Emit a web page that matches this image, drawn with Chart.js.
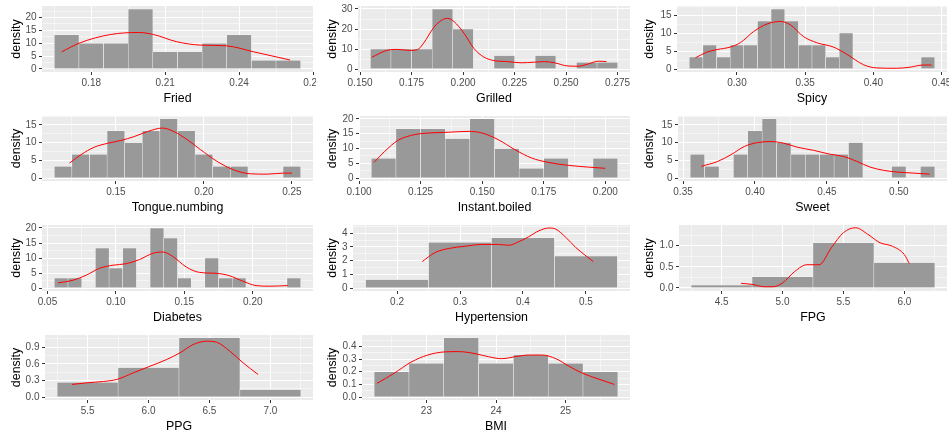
<!DOCTYPE html>
<html><head><meta charset="utf-8">
<script src="https://cdn.jsdelivr.net/npm/chart.js@4"></script>
<style>
html,body{margin:0;padding:0;background:#fff;overflow:hidden}
#wrap{position:relative;width:949px;height:432px;overflow:hidden;background:#fff}
#wrap canvas{position:absolute;display:block}
</style></head><body><div id="wrap"></div>
<script>
// ---------- data (histogram bin centres, densities, density-curve samples) ----------
const friedBins = [0.17,0.18,0.19,0.20,0.21,0.22,0.23,0.24,0.25,0.26];
const friedDensity = [13.33,10,10,23.33,6.67,6.67,10,13.33,3.33,3.33];
const friedCurveX = [0.168,0.1755,0.1877,0.1992,0.2053,0.2147,0.2242,0.235,0.2458,0.2607];
const friedCurveY = [6.7,10.2,13.4,14.2,13.4,10.6,9.3,9.0,6.7,3.5];

const grilledBins = [0.16,0.17,0.18,0.19,0.20,0.21,0.22,0.23,0.24,0.25,0.26,0.27];
const grilledDensity = [10,10,10,30,20,0,6.67,0,6.67,0,3.33,3.33];
const grilledCurveX = [0.1557,0.163,0.1679,0.1744,0.1777,0.1809,0.1858,0.1899,0.1926,0.1956,0.2005,0.2053,0.2102,0.2151,0.2216,0.2281,0.2346,0.2395,0.2444,0.2509,0.2558,0.2607,0.2656,0.2696];
const grilledCurveY = [5.9,9.3,9.8,9.3,9.6,13,20.8,24.6,25.3,23.7,17.8,10.2,5.9,4.2,3.7,3.1,3.4,3.7,3.1,1.5,1.4,2.5,3.9,3.7];

const spicyBins = [0.27,0.28,0.29,0.30,0.31,0.32,0.33,0.34,0.35,0.36,0.37,0.38,0.39,0.40,0.41,0.42,0.43,0.44];
const spicyDensity = [3.33,6.67,3.33,6.67,6.67,13.33,16.67,13.33,6.67,6.67,3.33,10,0,0,0,0,0,3.33];
const spicyCurveX = [0.2695,0.278,0.2854,0.2951,0.3024,0.3122,0.322,0.3317,0.339,0.3488,0.3585,0.3707,0.3805,0.3927,0.4024,0.4171,0.4268,0.4366,0.4427];
const spicyCurveY = [3.1,4.7,5.4,6.1,7.3,10.4,12.5,13.2,12.3,9.0,7.3,6.1,4.1,1.2,0.3,0.2,0.5,1.1,1.1];

const tongueBins = [0.12,0.13,0.14,0.15,0.16,0.17,0.18,0.19,0.20,0.21,0.22,0.23,0.24,0.25];
const tongueDensity = [3.33,6.67,6.67,13.33,10,13.33,16.67,13.33,6.67,3.33,3.33,0,0,3.33];
const tongueCurveX = [0.1236,0.1302,0.1377,0.1453,0.1528,0.1604,0.1679,0.1764,0.183,0.1906,0.1981,0.2075,0.217,0.2264,0.2358,0.2453,0.25];
const tongueCurveY = [4.2,6.6,8.7,9.8,10.6,11.7,13.1,14.1,13.1,10.8,8.0,4.7,2.3,1.2,1.1,1.4,1.4];

const instantBins = [0.11,0.12,0.13,0.14,0.15,0.16,0.17,0.18,0.19,0.20];
const instantDensity = [6.67,16.67,16.67,13.33,20,10,3.33,6.67,0,6.67];
const instantCurveX = [0.1061,0.1104,0.1159,0.1226,0.1294,0.1362,0.1443,0.1497,0.1565,0.1633,0.17,0.1768,0.1849,0.1931,0.1999];
const instantCurveY = [5.3,9.0,12.8,14.7,15.3,15.5,15.8,15.3,13.0,9.6,6.8,5.3,4.3,3.7,3.3];

const sweetBins = [0.36,0.37,0.38,0.39,0.40,0.41,0.42,0.43,0.44,0.45,0.46,0.47,0.48,0.49,0.50,0.51,0.52];
const sweetDensity = [6.67,3.33,0,6.67,13.33,16.67,10,6.67,6.67,6.67,6.67,10,0,0,3.33,0,3.33];
const sweetCurveX = [0.3627,0.3742,0.3834,0.3926,0.4018,0.411,0.4202,0.4294,0.4409,0.4524,0.4616,0.4708,0.48,0.4892,0.4984,0.51,0.5214];
const sweetCurveY = [3.3,4.7,6.6,8.9,10.0,10.3,9.8,8.7,7.8,6.7,6.1,4.7,3.1,2.2,1.7,1.4,1.1];

const diabetesBins = [0.06,0.07,0.08,0.09,0.10,0.11,0.12,0.13,0.14,0.15,0.16,0.17,0.18,0.19,0.20,0.21,0.22,0.23];
const diabetesDensity = [3.33,3.33,0,13.33,6.67,13.33,0,20,16.67,3.33,0,10,3.33,3.33,0,0,0,3.33];
const diabetesCurveX = [0.0578,0.0687,0.0784,0.0882,0.0979,0.1076,0.1173,0.1271,0.1343,0.1416,0.1514,0.1611,0.1732,0.1829,0.1926,0.2024,0.2121,0.2255];
const diabetesCurveY = [1.7,2.6,4.3,6.6,7.6,8.1,9.5,11.6,12.0,10.5,7.0,5.2,4.9,4.1,2.3,0.8,0.6,0.8];

const hyperBins = [0.2,0.3,0.4,0.5];
const hyperDensity = [0.62,3.333,3.667,2.333];
const hyperCurveX = [0.24,0.26,0.2815,0.3081,0.3348,0.3614,0.3774,0.3934,0.4094,0.4254,0.4413,0.452,0.468,0.484,0.5,0.5117];
const hyperCurveY = [1.93,2.58,2.88,3.05,3.18,3.18,3.12,3.38,3.75,4.18,4.38,4.3,3.7,2.95,2.35,1.93];

const fpgBins = [4.5,5.0,5.5,6.0];
const fpgDensity = [0.0667,0.2667,1.0667,0.6];
const fpgCurveX = [4.66,4.75,4.85,4.92,5.0,5.1,5.2,5.3,5.4,5.5,5.6,5.7,5.8,5.9,6.0,6.04];
const fpgCurveY = [0.11,0.085,0.03,0.03,0.12,0.39,0.55,0.55,0.95,1.31,1.425,1.27,1.07,0.99,0.79,0.58];

const ppgBins = [5.5,6.0,6.5,7.0];
const ppgDensity = [0.2667,0.5333,1.0667,0.1333];
const ppgCurveX = [5.372,5.495,5.631,5.74,5.876,6.013,6.149,6.258,6.367,6.476,6.558,6.667,6.776,6.899];
const ppgCurveY = [0.228,0.258,0.282,0.318,0.438,0.558,0.678,0.798,0.948,1.008,0.99,0.828,0.618,0.408];

const bmiBins = [22.5,23.0,23.5,24.0,24.5,25.0,25.5];
const bmiDensity = [0.2,0.2667,0.4667,0.2667,0.3333,0.2667,0.2];
const bmiCurveX = [22.29,22.54,22.78,23.02,23.27,23.46,23.7,23.89,24.08,24.28,24.47,24.66,24.86,25.05,25.24,25.48,25.70];
const bmiCurveY = [0.108,0.189,0.276,0.332,0.357,0.359,0.343,0.319,0.303,0.319,0.332,0.332,0.303,0.243,0.189,0.141,0.1];

// ---------- panel table (data refs + axis settings) ----------
const panels = [
 {title:'Fried', bins:friedBins, dens:friedDensity, cx:friedCurveX, cy:friedCurveY, xmin:0.16, xmax:0.27, xstep:0.03, xdec:2, ymin:-1.167, ymax:24.5, ystep:5, ydec:0},
 {title:'Grilled', bins:grilledBins, dens:grilledDensity, cx:grilledCurveX, cy:grilledCurveY, xmin:0.149, xmax:0.281, xstep:0.025, xdec:3, ymin:-1.5, ymax:31.5, ystep:10, ydec:0},
 {title:'Spicy', bins:spicyBins, dens:spicyDensity, cx:spicyCurveX, cy:spicyCurveY, xmin:0.256, xmax:0.454, xstep:0.05, xdec:2, ymin:-0.833, ymax:17.5, ystep:5, ydec:0},
 {title:'Tongue.numbing', bins:tongueBins, dens:tongueDensity, cx:tongueCurveX, cy:tongueCurveY, xmin:0.108, xmax:0.262, xstep:0.05, xdec:2, ymin:-0.833, ymax:17.5, ystep:5, ydec:0},
 {title:'Instant.boiled', bins:instantBins, dens:instantDensity, cx:instantCurveX, cy:instantCurveY, xmin:0.1, xmax:0.21, xstep:0.025, xdec:3, ymin:-1, ymax:21, ystep:5, ydec:0},
 {title:'Sweet', bins:sweetBins, dens:sweetDensity, cx:sweetCurveX, cy:sweetCurveY, xmin:0.3465, xmax:0.5335, xstep:0.05, xdec:2, ymin:-0.833, ymax:17.5, ystep:5, ydec:0},
 {title:'Diabetes', bins:diabetesBins, dens:diabetesDensity, cx:diabetesCurveX, cy:diabetesCurveY, xmin:0.046, xmax:0.244, xstep:0.05, xdec:2, ymin:-1, ymax:21, ystep:5, ydec:0},
 {title:'Hypertension', bins:hyperBins, dens:hyperDensity, cx:hyperCurveX, cy:hyperCurveY, xmin:0.13, xmax:0.57, xstep:0.1, xdec:1, ymin:-0.219, ymax:4.6, ystep:1, ydec:0},
 {title:'FPG', bins:fpgBins, dens:fpgDensity, cx:fpgCurveX, cy:fpgCurveY, xmin:4.15, xmax:6.35, xstep:0.5, xdec:1, ymin:-0.071, ymax:1.49, ystep:0.5, ydec:1},
 {title:'PPG', bins:ppgBins, dens:ppgDensity, cx:ppgCurveX, cy:ppgCurveY, xmin:5.15, xmax:7.35, xstep:0.5, xdec:1, ymin:-0.053, ymax:1.12, ystep:0.3, ydec:1},
 {title:'BMI', bins:bmiBins, dens:bmiDensity, cx:bmiCurveX, cy:bmiCurveY, xmin:22.075, xmax:25.925, xstep:1, xdec:0, ymin:-0.023, ymax:0.49, ystep:0.1, ydec:1}
];

// ---------- layout (plot-panel frames on the page) ----------
const colLeft = [0,316,633], colWidth = [316,317,316];
const frames = [
 {col:0,L:42,R:313,T:6,B:72},{col:1,L:358,R:630,T:6,B:72},{col:2,L:677,R:947,T:6,B:72},
 {col:0,L:42,R:313,T:116,B:181},{col:1,L:359,R:630,T:116,B:181},{col:2,L:678,R:947,T:116,B:181},
 {col:0,L:42,R:313,T:225,B:291},{col:1,L:353,R:630,T:225,B:291},{col:2,L:679,R:947,T:225,B:291},
 {col:0,L:45,R:313,T:335,B:400},{col:1,L:362,R:630,T:335,B:400}
];

const FONT = "'Liberation Sans', Arial, Helvetica, sans-serif";
const panelBg = {id:'panelBg', beforeDraw(c){
  const a = c.chartArea, ctx = c.ctx;
  ctx.save(); ctx.fillStyle = '#EBEBEB';
  ctx.fillRect(a.left, a.top, a.right - a.left, a.bottom - a.top);
  ctx.restore();
}};
function isMajor(v, step){ const r = v / step; return Math.abs(r - Math.round(r)) < 1e-6; }

const wrap = document.getElementById('wrap');
panels.forEach((p, i) => {
  const f = frames[i];
  const cl = colLeft[f.col], cw = colWidth[f.col];
  const padTop = 4, xh = 34;
  const H = f.B - f.T + padTop + xh;
  const cv = document.createElement('canvas');
  cv.width = cw; cv.height = H;
  cv.style.left = cl + 'px'; cv.style.top = (f.T - padTop) + 'px';
  cv.style.width = cw + 'px'; cv.style.height = H + 'px';
  wrap.appendChild(cv);
  const yw = f.L - cl, padRight = cl + cw - f.R;
  const gridW = step => ctx => (ctx.tick && isMajor(ctx.tick.value, step)) ? 1 : 0.5;
  const tickC = step => ctx => (ctx.tick && isMajor(ctx.tick.value, step)) ? '#333333' : 'rgba(0,0,0,0)';
  new Chart(cv, {
    type: 'bar',
    data: { datasets: [
      { type:'line', data: p.cx.map((x, k) => ({x, y: p.cy[k]})), borderColor:'#FF0000', borderWidth:1,
        pointRadius:0, pointHoverRadius:0, cubicInterpolationMode:'monotone', fill:false, order:0 },
      { type:'bar', data: p.bins.map((x, k) => ({x, y: p.dens[k]})), backgroundColor:'#999999',
        borderColor:'#FFFFFF', borderWidth:0.5, barThickness:'flex', categoryPercentage:1, barPercentage:1, order:1 }
    ]},
    options: {
      responsive:false, animation:false, devicePixelRatio:1,
      layout: { padding: { left:0, top:padTop, right:padRight, bottom:0 } },
      plugins: { legend:{display:false}, tooltip:{enabled:false} },
      events: [],
      scales: {
        x: { type:'linear', position:'bottom', min:p.xmin, max:p.xmax, offset:false,
          afterFit(s){ s.height = xh; s.paddingLeft = 0; s.paddingRight = 0; },
          border:{display:false},
          grid:{ offset:false, color:'#FFFFFF', lineWidth:gridW(p.xstep), tickLength:3, tickColor:tickC(p.xstep), tickWidth:1 },
          ticks:{ stepSize:p.xstep/2, includeBounds:false, autoSkip:false, maxRotation:0, minRotation:0, padding:2,
            color:'#4D4D4D', font:{family:FONT, size:10}, 
            callback: v => isMajor(v, p.xstep) ? Number(v).toFixed(p.xdec) : '' },
          title:{ display:true, text:p.title, color:'#000000', font:{family:FONT, size:12.4}, padding:{top:0, bottom:0} }
        },
        y: { type:'linear', position:'left', min:p.ymin, max:p.ymax,
          afterFit(s){ s.width = yw; s.paddingTop = 0; s.paddingBottom = 0; },
          border:{display:false},
          grid:{ color:'#FFFFFF', lineWidth:gridW(p.ystep), tickLength:3, tickColor:tickC(p.ystep), tickWidth:1 },
          ticks:{ stepSize:p.ystep/2, includeBounds:false, autoSkip:false, padding:2.5,
            color:'#4D4D4D', font:{family:FONT, size:10},
            callback: v => isMajor(v, p.ystep) ? Number(v).toFixed(p.ydec) : '' },
          title:{ display:true, text:'density', color:'#000000', font:{family:FONT, size:12.4}, padding:{top:9.3, bottom:0} }
        }
      }
    },
    plugins: [panelBg]
  });
});
</script>
</body></html>
